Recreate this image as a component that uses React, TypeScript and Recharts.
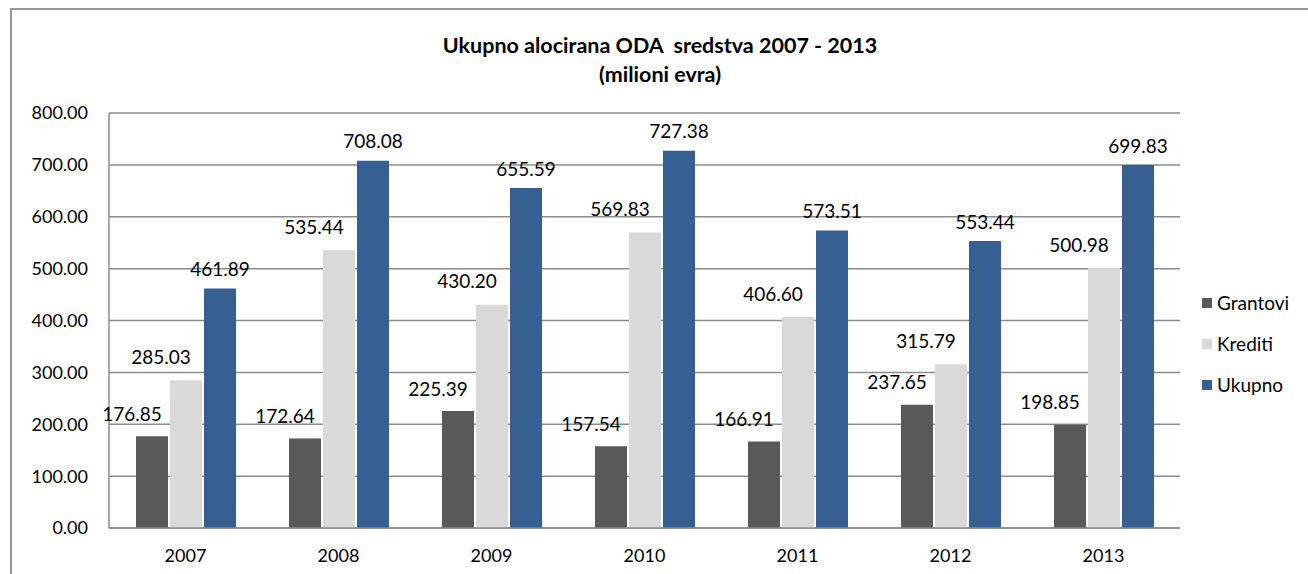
import React from "react";
import { BarChart, Bar, XAxis, YAxis, CartesianGrid, LabelList } from "recharts";

const years = ["2007", "2008", "2009", "2010", "2011", "2012", "2013"];
const grantovi = [176.85, 172.64, 225.39, 157.54, 166.91, 237.65, 198.85];
const krediti = [285.03, 535.44, 430.2, 569.83, 406.6, 315.79, 500.98];
const ukupno = [461.89, 708.08, 655.59, 727.38, 573.51, 553.44, 699.83];
const yTicks = [0, 100, 200, 300, 400, 500, 600, 700, 800];

const series = [
  { key: "grantovi", name: "Grantovi", color: "#595959", dx: -20, dy: 22 },
  { key: "krediti", name: "Krediti", color: "#d9d9d9", dx: -25, dy: 23 },
  { key: "ukupno", name: "Ukupno", color: "#376092", dx: 0, dy: 19 },
];

const data = years.map((year, i) => ({
  year,
  grantovi: grantovi[i],
  krediti: krediti[i],
  ukupno: ukupno[i],
}));

const FONT = "Lato, 'Noto Sans', sans-serif";
const GRID = "#8c8c8c";

function makeLabel(dx: number, dy: number) {
  return (props: any) => {
    const { x, y, width, value } = props;
    return (
      <text
        x={Number(x) + Number(width) / 2 + dx}
        y={Number(y) - dy}
        dy="0.35em"
        textAnchor="middle"
        fontSize={19}
        fontFamily={FONT}
        fill="#000"
      >
        {Number(value).toFixed(2)}
      </text>
    );
  };
}

export default function App() {
  return (
    <div
      style={{
        position: "absolute",
        left: 0,
        top: 0,
        width: 1308,
        height: 574,
        background: "#fff",
        overflow: "hidden",
        fontFamily: FONT,
      }}
    >
      <div
        style={{
          position: "absolute",
          left: 10,
          top: 8,
          width: 1320,
          height: 600,
          borderLeft: "2px solid #999",
          borderTop: "2px solid #999",
        }}
      />
      <div
        style={{
          position: "absolute",
          left: 360,
          width: 600,
          top: 31,
          textAlign: "center",
          fontWeight: 700,
          fontSize: 21.5,
          lineHeight: "29px",
          whiteSpace: "pre",
          color: "#000",
        }}
      >
        {"Ukupno alocirana ODA  sredstva 2007 - 2013\n(milioni evra)"}
      </div>

      <div style={{ position: "absolute", left: 0, top: 0 }}>
        <BarChart
          width={1308}
          height={574}
          data={data}
          margin={{ top: 113, right: 128, bottom: 16, left: 9 }}
          barCategoryGap={26}
          barGap={2}
        >
          <CartesianGrid vertical={false} stroke={GRID} strokeWidth={1.5} />
          <XAxis
            dataKey="year"
            height={30}
            tickLine={false}
            axisLine={{ stroke: GRID, strokeWidth: 1.5 }}
            tickSize={6}
            tickMargin={15}
            tick={{ fill: "#000", fontSize: 18, fontFamily: FONT }}
          />
          <YAxis
            width={100}
            domain={[0, 800]}
            ticks={yTicks}
            interval={0}
            tickLine={false}
            axisLine={{ stroke: GRID, strokeWidth: 1.5 }}
            tickSize={6}
            tickMargin={15}
            tickFormatter={(v: number) => v.toFixed(2)}
            tick={{ fill: "#000", fontSize: 18, fontFamily: FONT }}
          />
          {series.map((s) => (
            <Bar
              key={s.key}
              dataKey={s.key}
              name={s.name}
              fill={s.color}
              barSize={32}
              isAnimationActive={false}
            >
              <LabelList dataKey={s.key} content={makeLabel(s.dx, s.dy)} />
            </Bar>
          ))}
        </BarChart>
      </div>

      <div style={{ position: "absolute", left: 1202, top: 282 }}>
        {series.map((s) => (
          <div
            key={s.key}
            style={{ display: "flex", alignItems: "center", height: 41, fontSize: 19, color: "#000" }}
          >
            <span style={{ width: 10, height: 10, background: s.color, marginRight: 5, display: "inline-block" }} />
            {s.name}
          </div>
        ))}
      </div>
    </div>
  );
}
